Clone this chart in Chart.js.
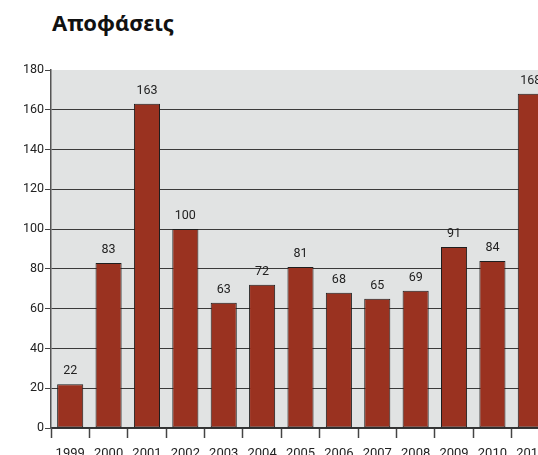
<!DOCTYPE html>
<html>
<head>
<meta charset="utf-8">
<script src="https://cdn.jsdelivr.net/npm/chart.js@4/dist/chart.umd.min.js"></script>
<style>
  html, body { margin: 0; padding: 0; background: #ffffff; overflow: hidden; }
  #wrap { position: relative; width: 538px; height: 455px; overflow: hidden; }
  #title {
    position: absolute; left: 52px; top: 7px;
    font-family: "Noto Sans", sans-serif; font-weight: 700; font-size: 22px;
    color: #111;
  }
  canvas { position: absolute; left: 0; top: 0; }
</style>
</head>
<body>
<div id="wrap">
  <div id="title">Αποφάσεις</div>
  <canvas id="c" width="560" height="470"></canvas>
</div>
<script>
// Decisions per year
const years = ["1999", "2000", "2001", "2002", "2003", "2004", "2005", "2006", "2007", "2008", "2009", "2010", "2011"];
const decisions = [22, 83, 163, 100, 63, 72, 81, 68, 65, 69, 91, 84, 168];
const yTicks = [0, 20, 40, 60, 80, 100, 120, 140, 160, 180];

const FONT = "Roboto, 'Liberation Sans', sans-serif";

// grey panel behind the bars
const panelBg = {
  id: 'panelBg',
  beforeDraw(chart) {
    const { ctx, chartArea: a } = chart;
    ctx.save();
    ctx.fillStyle = '#e1e3e3';
    ctx.fillRect(a.left, a.top, a.right - a.left, a.bottom - a.top);
    ctx.restore();
  }
};

// value written above each bar
const barValues = {
  id: 'barValues',
  afterDatasetsDraw(chart) {
    const { ctx } = chart;
    const meta = chart.getDatasetMeta(0);
    ctx.save();
    ctx.font = '12.5px ' + FONT;
    ctx.fillStyle = '#222';
    ctx.textAlign = 'center';
    ctx.textBaseline = 'bottom';
    meta.data.forEach((bar, i) => {
      ctx.fillText(String(decisions[i]), bar.x, bar.y - 7);
    });
    ctx.restore();
  }
};

new Chart(document.getElementById('c'), {
  type: 'bar',
  data: {
    labels: years,
    datasets: [{
      data: decisions,
      backgroundColor: '#9a3220',
      borderColor: '#1e1e1e',
      borderWidth: 1,
      borderSkipped: false,
      categoryPercentage: 1,
      barPercentage: 0.68
    }]
  },
  options: {
    responsive: false,
    animation: false,
    events: [],
    layout: { padding: { top: 70, left: 0, right: 10, bottom: 0 } },
    plugins: { legend: { display: false }, tooltip: { enabled: false }, title: { display: false } },
    scales: {
      x: {
        offset: true,
        grid: {
          offset: true,
          drawOnChartArea: false,
          drawTicks: true,
          tickLength: 10,
          tickColor: '#444',
          tickWidth: 1.5
        },
        border: { color: '#333', width: 1.5 },
        ticks: {
          font: { family: FONT, size: 13 },
          color: '#222',
          padding: 8,
          maxRotation: 0,
          autoSkip: false
        },
        afterFit(s) { s.height = 42; }
      },
      y: {
        min: 0,
        max: 180,
        afterBuildTicks(s) { s.ticks = yTicks.map(v => ({ value: v })); },
        grid: {
          color: ctx => (ctx.tick && ctx.tick.value === 180) ? 'rgba(0,0,0,0)' : '#3a3a3a',
          lineWidth: 1,
          drawTicks: true,
          tickLength: 6,
          tickColor: '#444'
        },
        border: { color: '#555', width: 1.5 },
        ticks: {
          font: { family: FONT, size: 12.5 },
          color: '#222',
          padding: 1
        },
        afterFit(s) { s.width = 51; }
      }
    }
  },
  plugins: [panelBg, barValues]
});
</script>
</body>
</html>
